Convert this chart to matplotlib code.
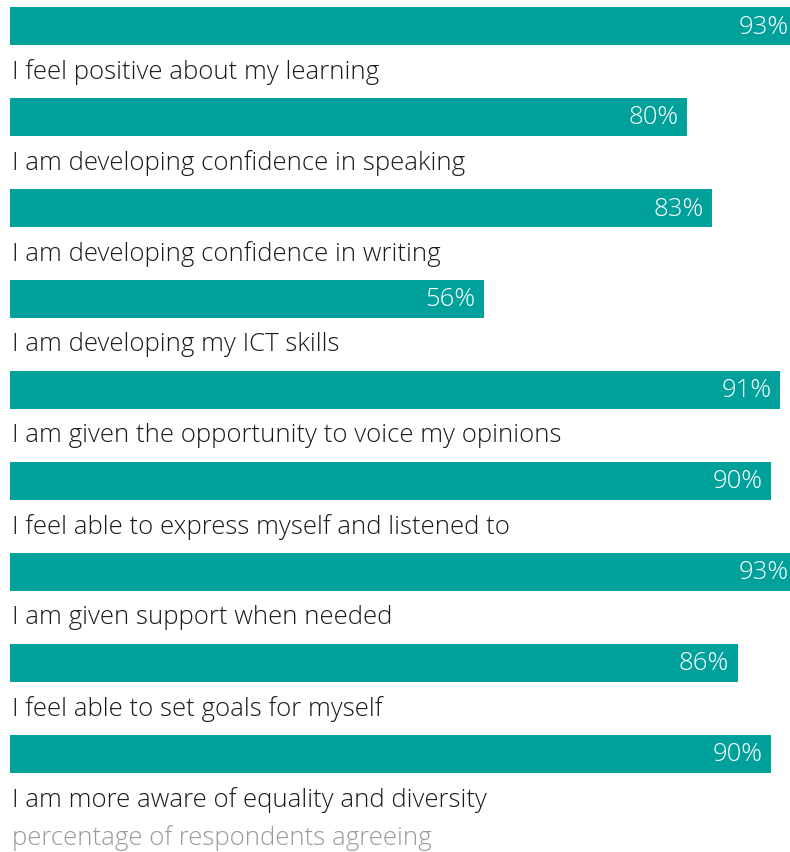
import matplotlib.pyplot as plt

plt.rcParams['font.family'] = ['Open Sans', 'DejaVu Sans']

statements = [
    'I feel positive about my learning',
    'I am developing confidence in speaking',
    'I am developing confidence in writing',
    'I am developing my ICT skills',
    'I am given the opportunity to voice my opinions',
    'I feel able to express myself and listened to',
    'I am given support when needed',
    'I feel able to set goals for myself',
    'I am more aware of equality and diversity',
]
agree_pct = [93, 80, 83, 56, 91, 90, 93, 86, 90]

TEAL = '#00A19B'
W, H = 790, 853
fig = plt.figure(figsize=(W / 100, H / 100), dpi=100)
# axes spans the full height; x runs from the bar origin to the right edge
ax = fig.add_axes([10 / W, 0, 780 / W, 1])

px_per_pct = 8.46
xmax = 780 / px_per_pct
pitch = 91.0
ax.set_xlim(0, xmax)
ax.set_ylim((H - 27) / pitch, -27 / pitch)
ax.axis('off')

ys = list(range(len(statements)))
ax.barh(ys, agree_pct, height=38 / pitch, color=TEAL, left=0)

fs = 18.5
for y, v, s in zip(ys, agree_pct, statements):
    ax.text(v - 1.0, y, f'{v}%', color='white', fontsize=fs,
            fontweight='light', ha='right', va='center')
    ax.text(0.2, y + 45 / pitch, s, color='#1a1a1a', fontsize=fs,
            fontweight='light', ha='left', va='center')

fig.text(12 / W, 1 - 838 / H, 'percentage of respondents agreeing',
         color='#9a9a9a', fontsize=fs, fontweight='light',
         ha='left', va='center')

fig.savefig('out.png', dpi=100)
